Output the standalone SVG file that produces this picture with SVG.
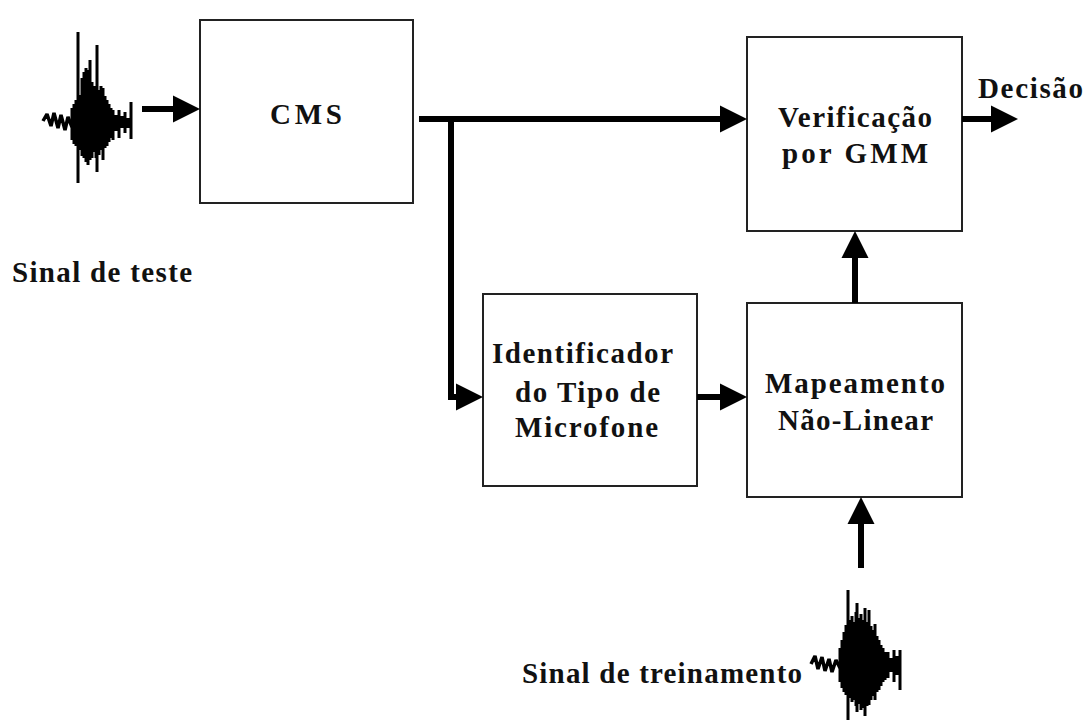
<svg xmlns="http://www.w3.org/2000/svg" width="1085" height="720" viewBox="0 0 1085 720">
<style>
.box{fill:#fff;stroke:#222;stroke-width:2}
.t{font-family:"Liberation Serif",serif;font-weight:bold;font-size:29px;fill:#111}
.c{fill:none;stroke:#000;stroke-width:6}
.w{fill:none;stroke:#000;stroke-width:3}
.z{fill:none;stroke:#000;stroke-width:3.5;stroke-linejoin:bevel}
</style>
<defs>
<marker id="ah" markerUnits="userSpaceOnUse" markerWidth="28" markerHeight="28" refX="0" refY="13.5" orient="auto" viewBox="0 0 28 27">
<path d="M0,0 L27,13.5 L0,27 Z" fill="#000"/>
</marker>
</defs>
<rect width="1085" height="720" fill="#fff"/>

<g id="wave-teste">
<polyline class="z" points="43,121 47,114 51,126 54,113 58,128 61,115 65,130 68,117 72,127"/>
<path class="w" d="M72,108V140 M74,104V144 M76,100V146 M78,32V183 M80,95V150 M82,78V156 M84,72V158 M86,68V162 M88,70V165 M90,60V160 M92,82V158 M94,86V152 M96,88V158 M97,45V172 M99,90V155 M101,86V150 M103,88V160 M105,96V148 M107,100V146 M109,104V142 M111,108V138 M113,110V140 M116,115V131 M119,110V138 M122,116V128 M125,112V133 M128,118V128 M131,102V139"/>
</g>

<g id="wave-treinamento">
<polyline class="z" points="811,664 815,656 818,669 822,657 825,671 829,659 832,672 836,660 840,668"/>
<path class="w" d="M840,648V682 M842,640V688 M844,632V692 M846,625V695 M848,590V720 M850,620V698 M852,616V702 M854,622V700 M856,612V706 M857,603V712 M859,618V704 M861,614V710 M863,620V708 M865,608V716 M867,622V706 M869,610V705 M871,626V700 M873,630V696 M875,624V700 M877,636V692 M879,640V690 M881,645V686 M883,648V682 M885,652V680 M888,652V678 M891,658V672 M894,650V682 M897,656V675 M900,650V690"/>
</g>

<g id="node-cms">
<rect class="box" x="200" y="20" width="213" height="183"/>
<text class="t" x="270" y="124" textLength="72" lengthAdjust="spacing">CMS</text>
</g>

<g id="node-verificacao">
<rect class="box" x="747" y="37" width="215" height="194"/>
<text class="t" x="778" y="127" textLength="154" lengthAdjust="spacing">Verificação</text>
<text class="t" x="782" y="163" textLength="146" lengthAdjust="spacing">por GMM</text>
</g>

<g id="node-identificador">
<rect class="box" x="483" y="294" width="214" height="192"/>
<text class="t" x="492" y="363" textLength="181" lengthAdjust="spacing">Identificador</text>
<text class="t" x="515" y="402" textLength="145" lengthAdjust="spacing">do Tipo de</text>
<text class="t" x="515" y="437" textLength="143" lengthAdjust="spacing">Microfone</text>
</g>

<g id="node-mapeamento">
<rect class="box" x="747" y="303" width="215" height="194"/>
<text class="t" x="765" y="393" textLength="180" lengthAdjust="spacing">Mapeamento</text>
<text class="t" x="778" y="430" textLength="155" lengthAdjust="spacing">Não-Linear</text>
</g>

<g id="labels">
<text class="t" x="978" y="98" textLength="105" lengthAdjust="spacing">Decisão</text>
<text class="t" x="12" y="282" textLength="180" lengthAdjust="spacing">Sinal de teste</text>
<text class="t" x="522" y="683" textLength="280" lengthAdjust="spacing">Sinal de treinamento</text>
</g>

<g id="connectors">
<path class="c" d="M142,109H173" marker-end="url(#ah)"/>
<path class="c" d="M419,119H720" marker-end="url(#ah)"/>
<path class="c" d="M451,119V397H456" marker-end="url(#ah)"/>
<path class="c" d="M697,397H720" marker-end="url(#ah)"/>
<path class="c" d="M855,303V258" marker-end="url(#ah)"/>
<path class="c" d="M861,568V524" marker-end="url(#ah)"/>
<path class="c" d="M962,119H991" marker-end="url(#ah)"/>
</g>
</svg>
